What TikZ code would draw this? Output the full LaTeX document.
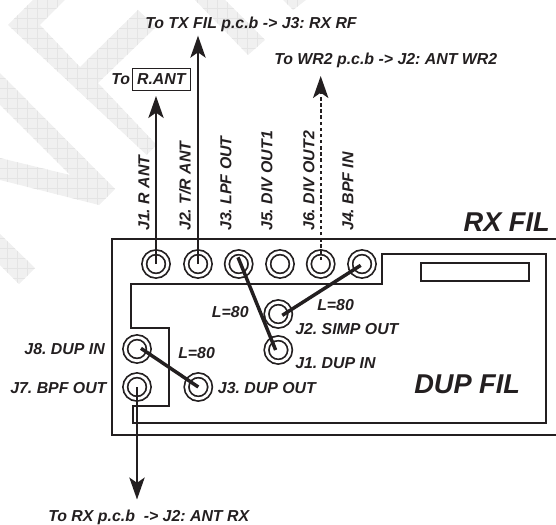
\documentclass[tikz,border=0pt]{standalone}
\usepackage{fontspec}
\setmainfont{Liberation Sans}
\usetikzlibrary{arrows.meta}
\definecolor{ink}{HTML}{231F20}
\definecolor{markfill}{HTML}{F0F0F0}
\definecolor{markgrid}{HTML}{E4E4E4}
\frenchspacing
\begin{document}
\begin{tikzpicture}[
  x=0.75pt, y=-0.75pt,
  jack/.style={circle, draw=ink, line width=1.3pt, double=white, double distance=2.1pt,
    inner sep=0pt, outer sep=0pt, minimum size=17.6pt},
  label_text/.style={font=\fontsize{11.9}{14}\selectfont\bfseries\itshape, text=ink, inner sep=0pt},
  big_text/.style={font=\fontsize{20.4}{24}\selectfont\bfseries\itshape, text=ink, inner sep=0pt},
  pin_text/.style={label_text, rotate=90, anchor=west},
  board/.style={draw=ink, line width=1.45pt},
  cable/.style={draw=ink, line width=1.35pt, -{Stealth[length=16.5pt, width=11.5pt, inset=4pt]}},
  cable_dash/.style={cable, dash pattern=on 2.6pt off 2pt},
  wire/.style={draw=ink, line width=2.6pt}
]

  \useasboundingbox (0,0) rectangle (556,524);

  % Watermark
  \begin{scope}
    \clip (33,0) -- (8,25) -- (146.7,155) -- (156.7,145) -- (98,83) -- (156,27) -- (138,10) -- (80,67) -- (40,25) -- (65,0) -- cycle
      (0,73) -- (115,189) -- (99,205) -- (0,180) -- (0,158) -- (70,175) -- (0,105) -- cycle
      (0,234) -- (35,268) -- (19,284) -- (0,265) -- cycle
      (195,0) -- (225,0) -- (265,40) -- (248,55) -- cycle
      (283,0) -- (293,10) -- (306,0) -- cycle;
    \fill[markfill] (0,0) rectangle (310,290);
    \foreach \k in {0,...,31} {
      \draw[markgrid, line width=0.5pt] (7.5+10*\k,0) -- (7.5+10*\k,290);
      \draw[markgrid, line width=0.5pt] (0,8+10*\k) -- (310,8+10*\k);
    }
  \end{scope}

  % Board outlines
  \draw[board] (556,239) -- (112.3,239) -- (112.3,435) -- (556,435);
  \draw[board] (382.3,284) -- (382.3,253.7) -- (545.7,253.7) -- (545.7,423.3) -- (133.3,423.3)
    -- (133.3,406) -- (169,406) -- (169,327.7) -- (130.7,327.7) -- (130.7,284) -- cycle;
  \draw[board] (420.7,262.7) rectangle (529,281);

  % Connectors
  \node[jack] (j1_top) at (156,264) {};
  \node[jack] (j2_top) at (198,264) {};
  \node[jack] (j3_top) at (238.7,264) {};
  \node[jack] (j5_top) at (280,264) {};
  \node[jack] (j6_top) at (320.7,264) {};
  \node[jack] (j4_top) at (362,264) {};
  \node[jack] (j2_simp) at (278.3,314) {};
  \node[jack] (j1_dup) at (278.3,350) {};
  \node[jack] (j8_dup) at (137,349) {};
  \node[jack] (j7_bpf) at (137,387) {};
  \node[jack] (j3_dup) at (198.3,387) {};

  % Wires on the board
  \draw[wire] ([shift={(-0.5pt,5pt)}]j3_top.center) -- ([shift={(-2pt,0pt)}]j1_dup.center);
  \draw[wire] ([shift={(-1pt,-1pt)}]j4_top.center) -- ([shift={(3pt,-1pt)}]j2_simp.center);
  \draw[wire] ([shift={(3pt,0.5pt)}]j8_dup.center) -- (j3_dup.center);

  % Cables leaving the board
  \coordinate (r_ant_end) at (156,96);
  \coordinate (tx_end) at (198,35.7);
  \coordinate (wr2_end) at (320.7,76);
  \coordinate (rx_end) at (137,499.5);
  \draw[cable] (j1_top.center) -- (r_ant_end);
  \draw[cable] (j2_top.center) -- (tx_end);
  \draw[cable_dash] ([yshift=3pt]j6_top.center) -- (wr2_end);
  \draw[cable] (j7_bpf.center) -- (rx_end);

  % Pin names
  \node[pin_text] (t_j1) at (144,231) {J1. R ANT};
  \node[pin_text] (t_j2) at (185,231) {J2. T/R ANT};
  \node[pin_text] (t_j3) at (226,231) {J3. LPF OUT};
  \node[pin_text] (t_j5) at (267,231) {J5. DIV OUT1};
  \node[pin_text] (t_j6) at (309,231) {J6. DIV OUT2};
  \node[pin_text] (t_j4) at (348,231) {J4. BPF IN};

  % Destinations
  \node[label_text, anchor=west] (to_tx) at (145,24) {To TX FIL p.c.b -> J3: RX RF};
  \node[label_text, anchor=west] (to_wr2) at (274,60) {To WR2 p.c.b -> J2: ANT WR2};
  \node[label_text, anchor=west] (to_r) at (111,79.5) {To};
  \node[label_text, draw=ink, line width=1pt, minimum width=43.5pt, minimum height=16.5pt] (r_ant) at (161.3,79.5) {R.ANT};
  \node[label_text, anchor=west] (to_rx) at (48,517) {To RX p.c.b~~-> J2: ANT RX};

  % Names on the board
  \node[big_text, anchor=east] (rx_fil) at (550,222) {RX FIL};
  \node[big_text, anchor=west] (dup_fil) at (414,384) {DUP FIL};
  \node[label_text, anchor=west] (len_a) at (211.7,311.7) {L=80};
  \node[label_text, anchor=west] (len_b) at (178,352.7) {L=80};
  \node[label_text, anchor=west] (len_c) at (317,305) {L=80};
  \node[label_text, anchor=west] (t_simp) at (295,329.3) {J2. SIMP OUT};
  \node[label_text, anchor=west] (t_dupin) at (295,363) {J1. DUP IN};
  \node[label_text, anchor=west] (t_dupout) at (217.7,387.7) {J3. DUP OUT};
  \node[label_text, anchor=east] (t_j8) at (105,349) {J8. DUP IN};
  \node[label_text, anchor=east] (t_j7) at (106.7,387.7) {J7. BPF OUT};

\end{tikzpicture}
\end{document}
